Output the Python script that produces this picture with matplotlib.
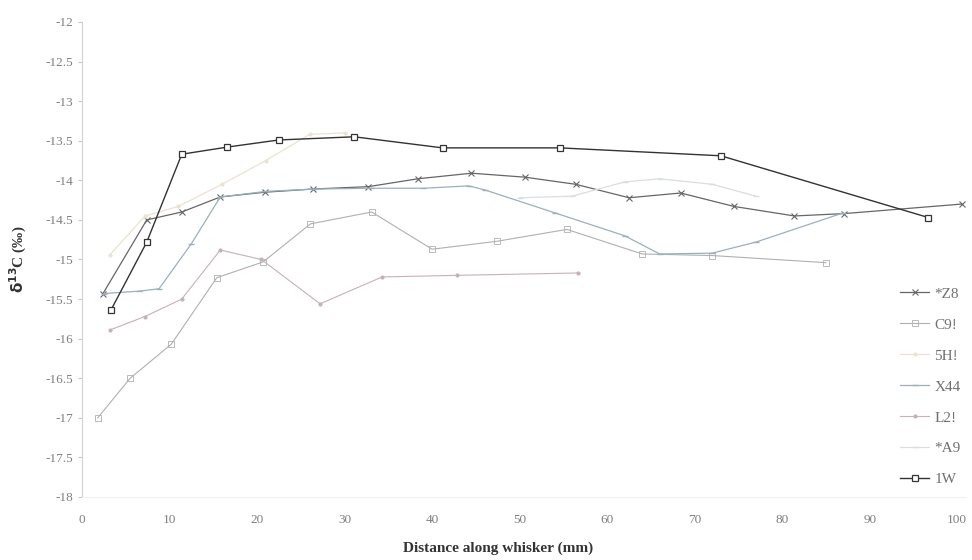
import numpy as np
import matplotlib.pyplot as plt

# data -----------------------------------------------------------------------

z8_x = [2.4, 7.4, 11.4, 15.8, 20.9, 26.4, 32.7, 38.4, 44.5, 50.6, 56.4, 62.5, 68.4, 74.5, 81.4, 87.1, 100.5]
z8_y = [-15.43, -14.5, -14.4, -14.21, -14.15, -14.11, -14.08, -13.98, -13.91, -13.96, -14.05, -14.22, -14.16, -14.33, -14.45, -14.42, -14.3]

c9_x = [1.8, 5.5, 10.2, 15.4, 20.7, 26.1, 33.1, 40.0, 47.4, 55.4, 64.0, 72.0, 85.0]
c9_y = [-17.0, -16.5, -16.07, -15.23, -15.03, -14.55, -14.4, -14.87, -14.77, -14.62, -14.93, -14.95, -15.04]

h5_x = [3.2, 7.2, 11.0, 16.0, 21.0, 26.0, 30.0]
h5_y = [-14.94, -14.45, -14.33, -14.05, -13.75, -13.42, -13.4]

x44_x = [2.5, 6.5, 8.8, 12.5, 15.8, 21.0, 26.5, 33.0, 39.0, 44.2, 46.0, 54.0, 62.0, 66.0, 72.0, 77.0, 87.0]
x44_y = [-15.43, -15.4, -15.37, -14.8, -14.21, -14.14, -14.11, -14.1, -14.1, -14.07, -14.12, -14.41, -14.7, -14.93, -14.92, -14.78, -14.41]

l2_x = [3.2, 7.2, 11.4, 15.8, 20.5, 27.2, 34.3, 42.9, 56.7]
l2_y = [-15.89, -15.72, -15.5, -14.88, -15.0, -15.56, -15.22, -15.2, -15.17]

a9_x = [50.0, 56.0, 62.0, 66.0, 72.0, 77.0]
a9_y = [-14.22, -14.2, -14.02, -13.98, -14.05, -14.2]

w1_x = [3.3, 7.4, 11.4, 16.6, 22.5, 31.1, 41.2, 54.6, 73.0, 96.7]
w1_y = [-15.64, -14.78, -13.67, -13.58, -13.49, -13.45, -13.59, -13.59, -13.69, -14.47]

xticks = np.arange(0, 101, 10)
yticks = np.arange(-18, -11.9, 0.5)

# plot ---------------------------------------------------------------------------

plt.rcParams['font.family'] = ['Liberation Serif', 'DejaVu Serif']

fig = plt.figure(figsize=(9.72, 5.6), dpi=100)
ax = fig.add_axes([82/972, 63/560, 884/972, 475/560])

ax.plot(z8_x, z8_y, color='#666666', lw=0.9, marker='x', ms=5, mew=0.8, label='*Z8')
ax.plot(c9_x, c9_y, color='#b0b0b0', lw=0.8, marker='s', ms=4, mfc='none', mew=0.6, label='C9!')
ax.plot(h5_x, h5_y, color='#ebe3cf', lw=0.9, marker='.', ms=4, label='5H!')
ax.plot(x44_x, x44_y, color='#9ab0be', lw=0.9, marker='_', ms=5, label='X44')
ax.plot(l2_x, l2_y, color='#c9b0b5', lw=0.8, marker='.', ms=4, label='L2!')
ax.plot(a9_x, a9_y, color='#d8e0d8', lw=0.9, marker='_', ms=4, label='*A9')
ax.plot(w1_x, w1_y, color='#333333', lw=1.0, marker='s', ms=5, mfc='white', mew=0.9, label='1W')

ax.set_xlim(0, 101)
ax.set_ylim(-18, -12)
ax.set_xticks(xticks)
ax.set_yticks(yticks)
ax.set_yticklabels(['%g' % v for v in yticks])
ax.tick_params(axis='both', colors='#c8c8c8', labelcolor='#808080', labelsize=9.5, length=3)
ax.tick_params(axis='x', length=0, pad=12)
for s in ['top', 'right']:
    ax.spines[s].set_visible(False)
ax.spines['left'].set_color('#d0d0d0')
ax.spines['bottom'].set_color('#f0f0f0')

fig.text(18/972, 1 - 259/560, r'$\mathbf{\delta^{13}}$C (‰)', rotation=90, ha='center', va='center',
         fontsize=11, fontweight='bold', color='#333333')
fig.text(498/972, 1 - 548/560, 'Distance along whisker (mm)', ha='center', va='center',
         fontsize=11, fontweight='bold', color='#333333')

leg = fig.legend(loc='upper left', bbox_to_anchor=(900/972, 1 - 287/560), frameon=False,
                 fontsize=11, labelspacing=1.13, handlelength=1.9, handletextpad=0.35,
                 borderpad=0, borderaxespad=0)
for t in leg.get_texts():
    t.set_color('#707070')

fig.savefig('out.png', dpi=100)
